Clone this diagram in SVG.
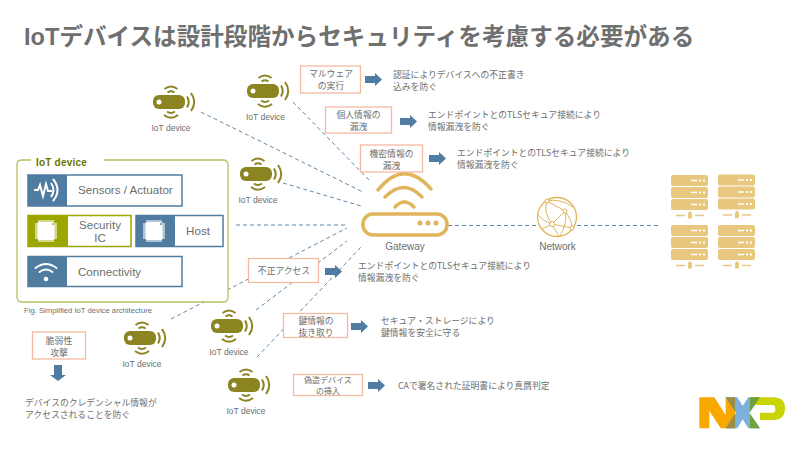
<svg xmlns="http://www.w3.org/2000/svg" width="800" height="450" viewBox="0 0 800 450">
<style>
text{font-family:"Liberation Sans","Noto Sans CJK JP",sans-serif;fill:#6e6e6e}
.jp{font-family:"Noto Sans CJK JP","Liberation Sans",sans-serif;font-size:8.800px}
.sm{font-size:8px}
.c{text-anchor:middle}
.lbl{font-size:8.500px}
.gw{font-size:10px}
.atk{fill:#fff;stroke:#f4b9a1;stroke-width:1.300}
.arrow{fill:#4f7ca0}
.dash{fill:none;stroke:#5f88ab;stroke-width:1;stroke-dasharray:4 3}
.part{font-size:11.600px}
.frame{fill:#fff;stroke:#4f7ca0;stroke-width:1.500}
.gold{fill:none;stroke:#e0b55c;stroke-linecap:round}
.srv{fill:#e8c77f}
</style>
<defs>
<g id="dev">
<rect x="0" y="0" width="32" height="14" rx="6" fill="#8c8420"/>
<circle cx="6" cy="7" r="2.500" fill="#fff"/>
<path d="M14.500-2.500Q18-5 21.500-2.500M11.500-6Q18-11 24.500-6M14 16.500Q18 19.500 22 16.500M11 20Q18 25.500 25 20M34 1.500Q37.500 7 34 12.500M38-2Q44.500 7 38 16" fill="none" stroke="#8c8420" stroke-width="2"/>
</g>
<g id="chip">
<rect x="0" y="3" width="22" height="16" fill="#fff" fill-opacity=".55"/>
<rect x="3" y="0" width="16" height="22" fill="#fff" fill-opacity=".55"/>
<rect x="2.500" y="2" width="17" height="18" rx="1.500" fill="#fff"/>
</g>
<g id="rack">
<rect x="0" y="0" width="37" height="11" rx="2" class="srv"/><rect x="0" y="12" width="37" height="11" rx="2" class="srv"/><rect x="0" y="24" width="37" height="11" rx="2" class="srv"/>
<path d="M20 5.500H26M20 17.500H26M20 29.500H26" stroke="#fff" stroke-width="1.300"/>
<path d="M28 5.500h2M32 5.500h2M28 17.500h2M32 17.500h2M28 29.500h2M32 29.500h2" stroke="#fff" stroke-width="2"/>
<path d="M5 40.500H14M24 40.500H33" stroke="#e8c77f" stroke-width="1.500"/>
<path d="M17 43.500V38L19 36 21 38V43.500Z" class="srv"/>
</g>
</defs>

<text x="24" y="45" font-size="23.600" font-weight="700" style="font-family:'Liberation Sans','Noto Sans CJK JP',sans-serif;fill:#6f6f6f">IoTデバイスは設計段階からセキュリティを考慮する必要がある</text>

<g id="connectors">
<path class="dash" d="M201 112L363 192M293 102L370 181M283 183L361 206M236 225H348M171 319L347 228M256 310L347 241M257 357L363 245M448 225.500H538M577 225.500H660"/>
</g>

<g id="iot-architecture">
<path d="M31 160H22Q17 160 17 165V297Q17 302 22 302H223Q228 302 228 297V165Q228 160 223 160H104" fill="#fff" stroke="#b9bf62" stroke-width="1.300"/>
<text x="36" y="166" font-size="10" font-weight="700" style="fill:#6d7400;font-family:'Liberation Sans',sans-serif;letter-spacing:.2px">IoT device</text>
<text x="24" y="312.500" font-size="7.700">Fig. Simplified IoT device architecture</text>
</g>

<g id="sensors">
<rect class="frame" x="28" y="175" width="154" height="31"/>
<rect x="28" y="175" width="39" height="31" fill="#4f7ca0"/>
<path d="M34 190H38L40 185 43 196 46 184 48 191H52" fill="none" stroke="#fff" stroke-width="2"/>
<path d="M51 183Q56 190 51 197M53 179Q62 190 53 201" fill="none" stroke="#fff" stroke-width="2"/>
<text class="part" x="78" y="194">Sensors / Actuator</text>
</g>
<g id="security-ic">
<rect x="28" y="215.500" width="103" height="31" fill="#fff" stroke="#9ca600" stroke-width="1.500"/>
<rect x="28" y="215.500" width="40" height="31" fill="#9ca600"/>
<use href="#chip" x="35" y="220"/>
<circle cx="53" cy="224" r="1" fill="#9ca600"/>
<text class="part c" x="100" y="229">Security</text><text class="part c" x="100" y="242">IC</text>
</g>
<g id="host">
<rect class="frame" x="136" y="215.500" width="87" height="31"/>
<rect x="136" y="215.500" width="39" height="31" fill="#4f7ca0"/>
<use href="#chip" x="143" y="220"/>
<circle cx="161" cy="224" r="1" fill="#4f7ca0"/>
<text class="part c" x="198" y="235">Host</text>
</g>
<g id="connectivity">
<rect class="frame" x="28" y="256.500" width="154" height="30"/>
<rect x="28" y="256.500" width="39" height="30" fill="#4f7ca0"/>
<path d="M35.500 268Q46 260 56.500 268M39.500 272Q46 267 52.500 272" fill="none" stroke="#fff" stroke-width="2" stroke-linecap="round"/>
<circle cx="46" cy="279" r="2.300" fill="#fff"/>
<text class="part" x="78" y="276">Connectivity</text>
</g>

<g id="device-1"><use href="#dev" x="153" y="95"/><text class="lbl c" x="171" y="131">IoT device</text></g>
<g id="device-2"><use href="#dev" x="247" y="84"/><text class="lbl c" x="265.500" y="120">IoT device</text></g>
<g id="device-3"><use href="#dev" x="240" y="167"/><text class="lbl c" x="258" y="203">IoT device</text></g>
<g id="device-4"><use href="#dev" x="124" y="331"/><text class="lbl c" x="142" y="367">IoT device</text></g>
<g id="device-5"><use href="#dev" x="211" y="319"/><text class="lbl c" x="229" y="355">IoT device</text></g>
<g id="device-6"><use href="#dev" x="228" y="378"/><text class="lbl c" x="246" y="414">IoT device</text></g>

<g id="gateway">
<path class="gold" stroke-width="3.500" d="M378 190Q404 158 431 189M385 197Q404 178 422 197M395 207Q404 197 414 207"/>
<rect x="363" y="214" width="84" height="21" rx="10" fill="#fff" stroke="#e0b55c" stroke-width="3.500"/>
<circle cx="420" cy="223" r="2.500" fill="#e0b55c"/><circle cx="428" cy="223" r="2.500" fill="#e0b55c"/><circle cx="436" cy="223" r="2.500" fill="#e0b55c"/>
<text class="gw c" x="405" y="250">Gateway</text>
</g>

<g id="network">
<circle cx="557" cy="217" r="19.500" fill="#fff" stroke="#e0b55c" stroke-width="1.300"/>
<path d="M547 201L565 211 552 224 572 228M547 201Q543 212 552 224Q556 232 559 236M565 211Q568 222 560 236M538 215Q544 222 552 224M547 201Q560 198 573 207M565 211Q572 220 572 228M552 224Q545 228 541 229" fill="none" stroke="#e0b55c" stroke-width="1"/>
<circle cx="547" cy="201" r="2" fill="#fff" stroke="#e0b55c"/><circle cx="565" cy="211" r="2" fill="#fff" stroke="#e0b55c"/><circle cx="552" cy="224" r="2.500" fill="#fff" stroke="#e0b55c"/><circle cx="572" cy="228" r="2" fill="#fff" stroke="#e0b55c"/>
<text class="gw c" x="557.500" y="250">Network</text>
</g>

<g id="servers">
<use href="#rack" x="671" y="175"/><use href="#rack" x="718" y="174.500"/><use href="#rack" x="671" y="225"/><use href="#rack" x="718" y="225"/>
</g>

<g id="threat-malware">
<rect class="atk" x="300.500" y="66" width="60" height="27"/>
<text class="jp c" x="331" y="77">マルウェア</text><text class="jp c" x="331" y="89">の実行</text>
<path class="arrow" d="M365 76H375V73L382 79.500 375 86V83H365Z"/>
<text class="jp" x="393" y="78">認証によりデバイスへの不正書き</text><text class="jp" x="393" y="90">込みを防ぐ</text>
</g>
<g id="threat-personal">
<rect class="atk" x="325.500" y="107" width="66" height="26"/>
<text class="jp c" x="358.500" y="118">個人情報の</text><text class="jp c" x="358.500" y="130">漏洩</text>
<path class="arrow" d="M400 118H410V115L417 121.500 410 128V125H400Z"/>
<text class="jp" x="428" y="118">エンドポイントとのTLSセキュア接続により</text><text class="jp" x="428" y="130">情報漏洩を防ぐ</text>
</g>
<g id="threat-secret">
<rect class="atk" x="360.500" y="145" width="62" height="27"/>
<text class="jp c" x="391.500" y="157">機密情報の</text><text class="jp c" x="391.500" y="169">漏洩</text>
<path class="arrow" d="M429 155H439V152L446 158.500 439 165V162H429Z"/>
<text class="jp" x="457" y="156">エンドポイントとのTLSセキュア接続により</text><text class="jp" x="457" y="168">情報漏洩を防ぐ</text>
</g>
<g id="threat-access">
<rect class="atk" x="248.500" y="258.500" width="70" height="24"/>
<text class="jp c" x="284" y="274">不正アクセス</text>
<path class="arrow" d="M325 268H335V265L342 271.500 335 278V275H325Z"/>
<text class="jp" x="358" y="268.500">エンドポイントとのTLSセキュア接続により</text><text class="jp" x="358" y="280.500">情報漏洩を防ぐ</text>
</g>
<g id="threat-key">
<rect class="atk" x="283.500" y="313.500" width="64" height="24"/>
<text class="jp c" x="316" y="323.500">鍵情報の</text><text class="jp c" x="316" y="335.500">抜き取り</text>
<path class="arrow" d="M351 323H361V320L368 326.500 361 333V330H351Z"/>
<text class="jp" x="381" y="323.500">セキュア・ストレージにより</text><text class="jp" x="381" y="335.500">鍵情報を安全に守る</text>
</g>
<g id="threat-fake">
<rect class="atk" x="293.500" y="374.500" width="69" height="21"/>
<text class="jp c sm" x="328" y="383">偽造デバイス</text><text class="jp c sm" x="328" y="394">の挿入</text>
<path class="arrow" d="M368 382H378V379L385 385.500 378 392V389H368Z"/>
<text class="jp" x="398" y="389">CAで署名された証明書により真贋判定</text>
</g>
<g id="threat-vuln">
<rect class="atk" x="32.500" y="332" width="53" height="27"/>
<text class="jp c" x="59" y="343.500">脆弱性</text><text class="jp c" x="59" y="355.500">攻撃</text>
<path class="arrow" d="M54 365H62V375H66L58 381 50 375H54Z"/>
<text class="jp" x="25" y="405.500">デバイスのクレデンシャル情報が</text><text class="jp" x="25" y="417.500">アクセスされることを防ぐ</text>
</g>

<g id="nxp-logo" transform="translate(680 380) scale(.3333)">
<path fill="#f9a800" d="M58 52H103L137 105V52H165V145H122L88 92V145H58Z"/>
<path fill="#7bb1db" d="M137 52H172L188 78 205 52H240L208 98 240 145H205L188 118 172 145H137L168 98Z"/>
<path fill="#9a8e45" d="M137 52H165V94ZM165 102V145H137Z"/>
<path fill="#c9d400" fill-rule="evenodd" d="M210 52H280Q315 52 315 85 315 120 280 120H240V98H278Q286 98 286 87 286 75 278 75H225Z"/>
<path fill="#6fa33a" d="M210 52H240L210 96ZM210 101L240 145H210Z"/>
</g>
</svg>
